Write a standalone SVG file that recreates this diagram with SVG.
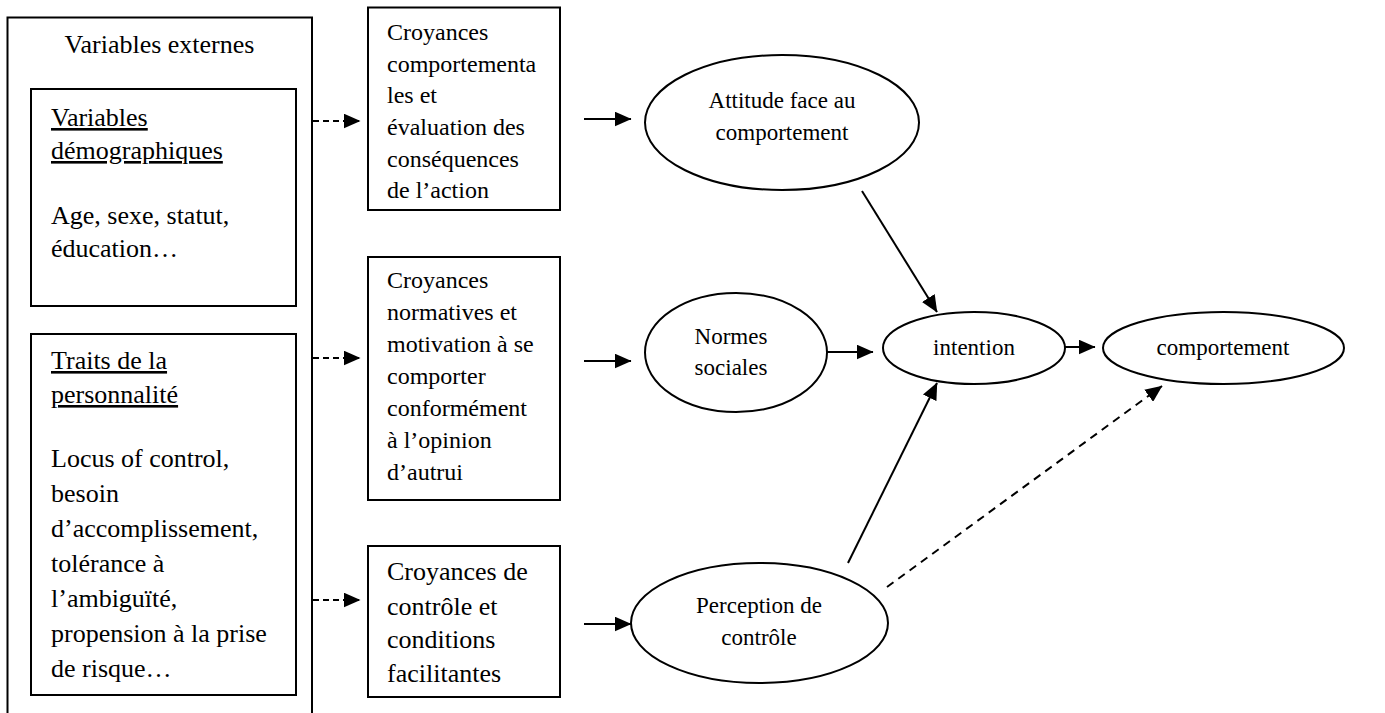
<svg xmlns="http://www.w3.org/2000/svg" width="1385" height="713" viewBox="0 0 1385 713">
<style>
text{font-family:"Liberation Serif","Times New Roman",serif;fill:#000}
.l{font-size:26px}
.m{font-size:24px}
.e{font-size:23px;text-anchor:middle}
.u{text-decoration:underline}
.box{fill:#fff;stroke:#000;stroke-width:2}
.ell{fill:#fff;stroke:#000;stroke-width:2}
.ln{fill:none;stroke:#000;stroke-width:2}
.dash{stroke-dasharray:6 4}
.dash2{stroke-dasharray:8 6}
</style>
<defs>
<marker id="ah" markerUnits="userSpaceOnUse" viewBox="0 0 17 15" markerWidth="17" markerHeight="15" refX="16.5" refY="7.5" orient="auto">
<path d="M0,0 L17,7.5 L0,15 z" fill="#000"/>
</marker>
</defs>
<g id="externes">
<path class="box" d="M7.5,714 V17.5 H312 V714" fill="#fff"/>
<text class="l" x="159.5" y="53" text-anchor="middle">Variables externes</text>
</g>
<g id="demographiques">
<rect class="box" x="31" y="89" width="265" height="217"/>
<text class="l u" x="51" y="126">Variables</text>
<text class="l u" x="51" y="159">démographiques</text>
<text class="l" x="51" y="224">Age, sexe, statut,</text>
<text class="l" x="51" y="257">éducation…</text>
</g>
<g id="personnalite">
<rect class="box" x="31" y="334" width="265" height="361"/>
<text class="l u" x="51" y="369">Traits de la</text>
<text class="l u" x="51" y="403">personnalité</text>
<text class="l" x="51" y="467">Locus of control,</text>
<text class="l" x="51" y="502">besoin</text>
<text class="l" x="51" y="537">d’accomplissement,</text>
<text class="l" x="51" y="572">tolérance à</text>
<text class="l" x="51" y="607">l’ambiguïté,</text>
<text class="l" x="51" y="642">propension à la prise</text>
<text class="l" x="51" y="677">de risque…</text>
</g>
<g id="croyances-comportementales">
<rect class="box" x="368" y="7.5" width="192" height="202.5"/>
<text class="m" x="387" y="40">Croyances</text>
<text class="m" x="387" y="72">comportementa</text>
<text class="m" x="387" y="103">les et</text>
<text class="m" x="387" y="135">évaluation des</text>
<text class="m" x="387" y="167">conséquences</text>
<text class="m" x="387" y="198">de l’action</text>
</g>
<g id="croyances-normatives">
<rect class="box" x="368" y="257" width="192" height="243"/>
<text class="m" x="387" y="288">Croyances</text>
<text class="m" x="387" y="320">normatives et</text>
<text class="m" x="387" y="352">motivation à se</text>
<text class="m" x="387" y="384">comporter</text>
<text class="m" x="387" y="416">conformément</text>
<text class="m" x="387" y="448">à l’opinion</text>
<text class="m" x="387" y="480">d’autrui</text>
</g>
<g id="croyances-controle">
<rect class="box" x="368" y="546" width="192" height="151"/>
<text class="l" x="387" y="580">Croyances de</text>
<text class="l" x="387" y="615">contrôle et</text>
<text class="l" x="387" y="648">conditions</text>
<text class="l" x="387" y="682">facilitantes</text>
</g>
<g id="attitude">
<ellipse class="ell" cx="782" cy="122.5" rx="137" ry="67.5"/>
<text class="e" x="782" y="108">Attitude face au</text>
<text class="e" x="782" y="140">comportement</text>
</g>
<g id="normes">
<ellipse class="ell" cx="736" cy="352.5" rx="91" ry="59.5"/>
<text class="e" x="731" y="344">Normes</text>
<text class="e" x="731" y="375">sociales</text>
</g>
<g id="perception">
<ellipse class="ell" cx="759.5" cy="623" rx="128.5" ry="60"/>
<text class="e" x="759" y="613">Perception de</text>
<text class="e" x="759" y="645">contrôle</text>
</g>
<g id="intention">
<ellipse class="ell" cx="974" cy="348" rx="91" ry="36"/>
<text class="e" x="974" y="355">intention</text>
</g>
<g id="comportement">
<ellipse class="ell" cx="1223.5" cy="348" rx="120.5" ry="36"/>
<text class="e" x="1223" y="355">comportement</text>
</g>
<g id="connectors">
<line class="ln dash" x1="313" y1="121" x2="360" y2="121" marker-end="url(#ah)"/>
<line class="ln dash" x1="313" y1="358" x2="360" y2="358" marker-end="url(#ah)"/>
<line class="ln dash" x1="313" y1="600" x2="360" y2="600" marker-end="url(#ah)"/>
<line class="ln" x1="584" y1="119" x2="631" y2="119" marker-end="url(#ah)"/>
<line class="ln" x1="584" y1="361" x2="631" y2="361" marker-end="url(#ah)"/>
<line class="ln" x1="584" y1="624" x2="631" y2="624" marker-end="url(#ah)"/>
<line class="ln" x1="827" y1="352" x2="873" y2="352" marker-end="url(#ah)"/>
<line class="ln" x1="1065" y1="347" x2="1095" y2="347" marker-end="url(#ah)"/>
<line class="ln" x1="862" y1="191" x2="937" y2="312" marker-end="url(#ah)"/>
<line class="ln" x1="848" y1="563" x2="937" y2="383" marker-end="url(#ah)"/>
<line class="ln dash2" x1="887" y1="587" x2="1162" y2="386" marker-end="url(#ah)"/>
</g>
</svg>
